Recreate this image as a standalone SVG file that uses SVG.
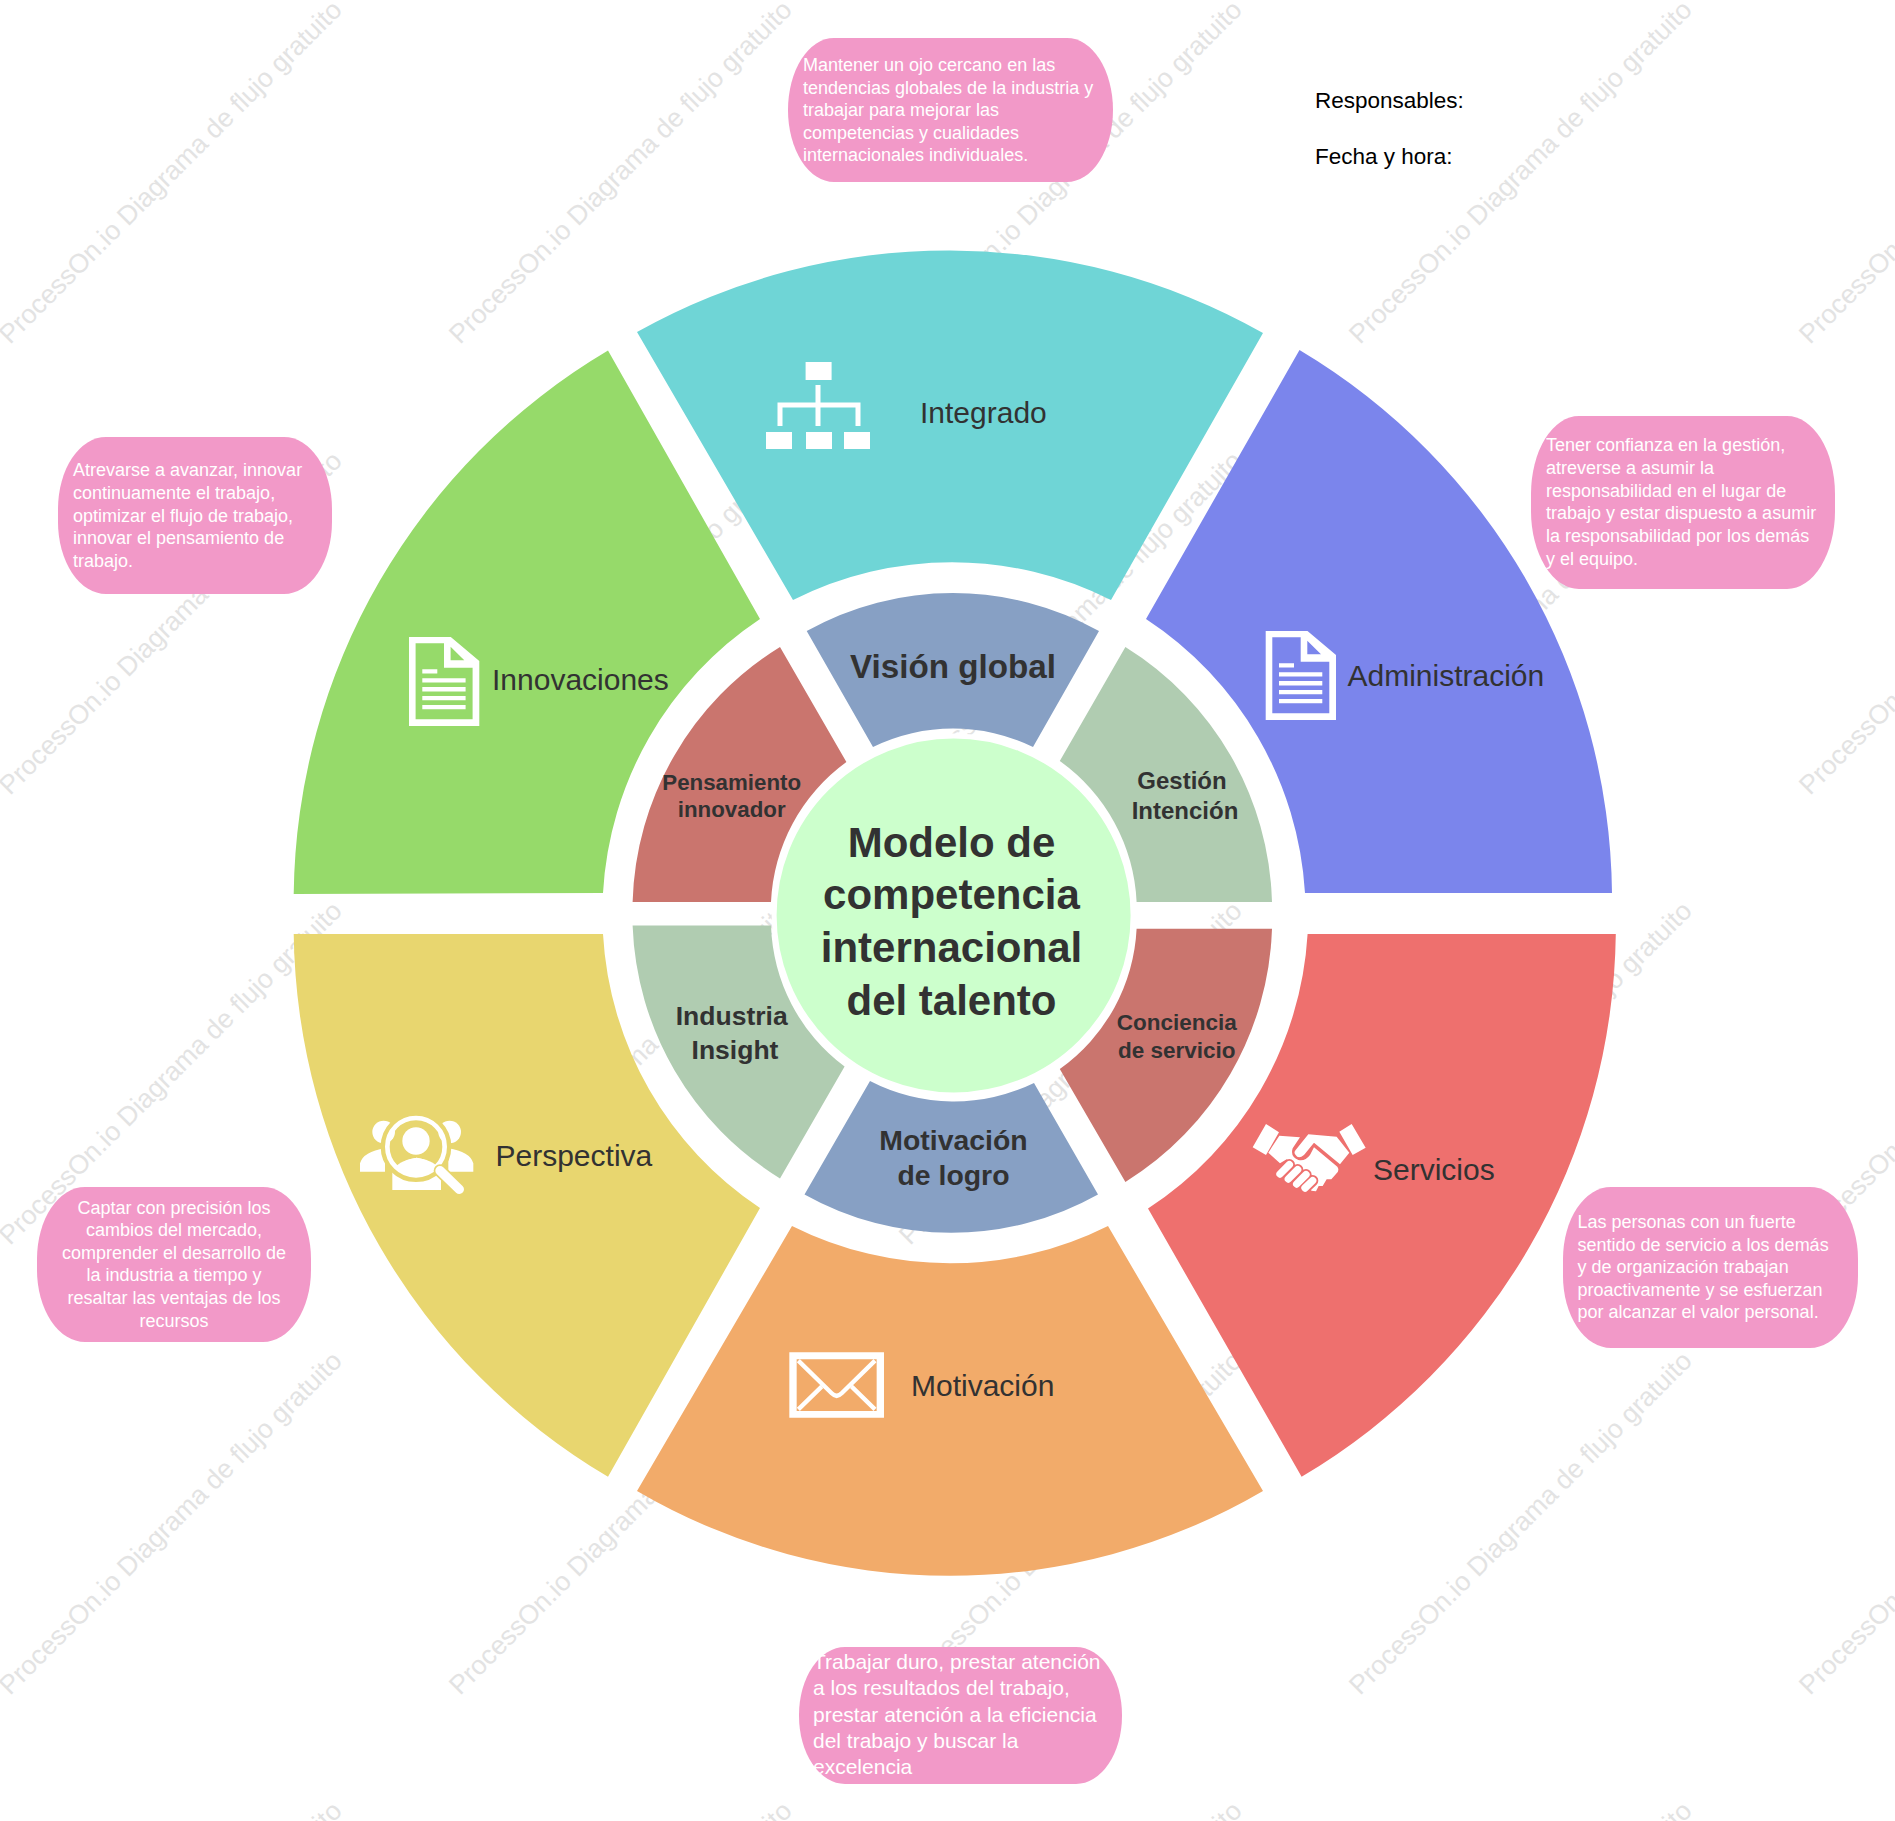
<svg xmlns="http://www.w3.org/2000/svg" xmlns:xlink="http://www.w3.org/1999/xlink" width="1895" height="1821" viewBox="0 0 1895 1821">
<style>
text{font-family:"Liberation Sans",Arial,sans-serif}
.wm{font-size:26.6px;fill:#e3e3e3}
.out{font-size:30px;fill:#323232}
.inn{font-weight:bold;fill:#323232;text-anchor:middle}
.call{fill:#f299c8}
.ct{font-size:18px;fill:#fff}
.ct21{font-size:21px;fill:#fff}
.meta{font-size:22.5px;fill:#000}
.w{fill:#fff}
</style>
<defs>
<g id="doc">
<path class="w" fill-rule="evenodd" d="M15.7 11H57.5L86 35V100H15.7ZM22.3 17.3V93.3H79.3V41.7H50.7V17.3ZM57.3 20.7V34.3H71Z"/>
<path class="w" d="M29 43.3h15v4.3h-15zM29 52.3h43.3v4.3h-43.3zM29 61h43.3v4.4h-43.3zM29 70h43.3v4.3h-43.3zM29 79h43.3v4.3h-43.3z"/>
</g>
<text id="w" class="wm" x="0" y="0">ProcessOn.io Diagrama de flujo gratuito</text>
</defs>
<rect width="1895" height="1821" fill="#fff"/>
<g id="watermark">
<use xlink:href="#w" href="#w" transform="translate(10,345) rotate(-45)"/>
<use xlink:href="#w" href="#w" transform="translate(460,345) rotate(-45)"/>
<use xlink:href="#w" href="#w" transform="translate(910,345) rotate(-45)"/>
<use xlink:href="#w" href="#w" transform="translate(1360,345) rotate(-45)"/>
<use xlink:href="#w" href="#w" transform="translate(1810,345) rotate(-45)"/>
<use xlink:href="#w" href="#w" transform="translate(10,796) rotate(-45)"/>
<use xlink:href="#w" href="#w" transform="translate(460,796) rotate(-45)"/>
<use xlink:href="#w" href="#w" transform="translate(910,796) rotate(-45)"/>
<use xlink:href="#w" href="#w" transform="translate(1360,796) rotate(-45)"/>
<use xlink:href="#w" href="#w" transform="translate(1810,796) rotate(-45)"/>
<use xlink:href="#w" href="#w" transform="translate(10,1246) rotate(-45)"/>
<use xlink:href="#w" href="#w" transform="translate(460,1246) rotate(-45)"/>
<use xlink:href="#w" href="#w" transform="translate(910,1246) rotate(-45)"/>
<use xlink:href="#w" href="#w" transform="translate(1360,1246) rotate(-45)"/>
<use xlink:href="#w" href="#w" transform="translate(1810,1246) rotate(-45)"/>
<use xlink:href="#w" href="#w" transform="translate(10,1696) rotate(-45)"/>
<use xlink:href="#w" href="#w" transform="translate(460,1696) rotate(-45)"/>
<use xlink:href="#w" href="#w" transform="translate(910,1696) rotate(-45)"/>
<use xlink:href="#w" href="#w" transform="translate(1360,1696) rotate(-45)"/>
<use xlink:href="#w" href="#w" transform="translate(1810,1696) rotate(-45)"/>
<use xlink:href="#w" href="#w" transform="translate(10,2146) rotate(-45)"/>
<use xlink:href="#w" href="#w" transform="translate(460,2146) rotate(-45)"/>
<use xlink:href="#w" href="#w" transform="translate(910,2146) rotate(-45)"/>
<use xlink:href="#w" href="#w" transform="translate(1360,2146) rotate(-45)"/>
<use xlink:href="#w" href="#w" transform="translate(1810,2146) rotate(-45)"/>
</g>
<g id="connectors"></g>

<g id="integrado">
<path fill="#6fd5d6" d="M637 332A638 638 0 0 1 1263 333L1111 600A353 353 0 0 0 793 600Z"/>
<path class="w" d="M805.6 362h26v18h-26zM766 432h26v17h-26zM806 432h26v17h-26zM844 432h26v17h-26z"/>
<path fill="none" stroke="#fff" stroke-width="5" d="M818 385V426M780 426V405H858V426"/>
<text class="out" x="920" y="423">Integrado</text>
</g>
<g id="administracion">
<path fill="#7b85ec" d="M1299.5 350A640 640 0 0 1 1612 893H1305A353 353 0 0 0 1146 619Z"/>
<use xlink:href="#doc" href="#doc" transform="translate(1250,620)"/>
<text class="out" x="1347.5" y="686">Administración</text>
</g>
<g id="servicios">
<path fill="#ee706e" d="M1307.6 934H1615.8A640 640 0 0 1 1301.6 1476.8L1148 1208.5A353 353 0 0 0 1307.6 934Z"/>
<g transform="translate(1230,1100) scale(.3333)">
<path class="w" d="M108 72L147 97L108 165L68 142ZM365 72L407 143L368 165L328 95Z"/>
<path class="w" d="M148 107L210 112L188 145Q180 170 205 180Q225 185 240 165L252 142L322 200Q330 212 318 222L304 238H290L278 258H266L258 274L244 272L232 225L195 195L170 178L150 190L115 158Z"/>
<path class="w" d="M197 150L235 103L320 110L358 158L330 193L252 128L222 165Q205 178 197 165Q190 158 197 150Z"/>
<g stroke="#ee706e" stroke-width="34" stroke-linecap="round"><path d="M150 222L178 194M175 237L203 209M200 252L228 224M225 264L248 242"/></g>
<g stroke="#fff" stroke-width="22" stroke-linecap="round"><path d="M150 222L178 194M175 237L203 209M200 252L228 224M225 264L248 242"/></g>
</g>
<text class="out" x="1373" y="1180">Servicios</text>
</g>
<g id="motivacion">
<path fill="#f2ab6a" d="M637 1491L792 1226A353 353 0 0 0 1108 1226L1263 1491A620 620 0 0 1 637 1491Z"/>
<g transform="translate(770,1330) scale(.3333)">
<path class="w" fill-rule="evenodd" d="M58 67H342V263H58ZM80 88V243H320V88Z"/>
<path fill="none" stroke="#fff" stroke-width="13" d="M85 92L185 190Q200 205 215 190L315 92M155 170L85 238M245 170L315 238"/>
</g>
<text class="out" x="911" y="1396">Motivación</text>
</g>
<g id="perspectiva">
<path fill="#e8d66f" d="M293.7 934H603A353 353 0 0 0 760 1208L608 1476.8A640 640 0 0 1 293.7 934Z"/>
<g transform="translate(340,1080) scale(.3333)">
<circle class="w" cx="131" cy="156" r="34"/><circle class="w" cx="329" cy="156" r="34"/>
<path class="w" d="M60 275V250Q70 215 135 205V275ZM400 275V250Q390 215 325 205V275Z"/>
<path class="w" d="M157 330V275Q170 242 230 233Q290 242 303 275V330Z"/>
<circle cx="228" cy="200" r="94" fill="none" stroke="#e8d66f" stroke-width="24"/>
<circle cx="228" cy="200" r="86" fill="none" stroke="#fff" stroke-width="14"/>
<circle class="w" cx="228" cy="183" r="41"/>
<path class="w" d="M170 262Q190 238 230 233Q268 238 287 262Q262 282 228 283Q195 282 170 262Z"/>
<path d="M300 272L358 328" stroke="#e8d66f" stroke-width="38" stroke-linecap="round"/>
<path d="M300 272L358 328" stroke="#fff" stroke-width="28" stroke-linecap="round"/>
</g>
<text class="out" x="495.5" y="1166">Perspectiva</text>
</g>
<g id="innovaciones">
<path fill="#96da6a" d="M608 350.5L760 619A353 353 0 0 0 603 893L293.7 894A640 640 0 0 1 608 350.5Z"/>
<use xlink:href="#doc" href="#doc" transform="translate(393.3,626)"/>
<text class="out" x="492" y="690">Innovaciones</text>
</g>

<g id="vision-global">
<path fill="#87a0c4" d="M806.7 631A300 300 0 0 1 1099 631L1033 747A183 183 0 0 0 873 747Z"/>
<text class="inn" x="953" y="678" font-size="33.2">Visión global</text>
</g>
<g id="gestion">
<path fill="#b0ccb1" d="M1125.4 647A310 310 0 0 1 1272 902H1136.6A183 183 0 0 0 1059.8 761Z"/>
<text class="inn" x="1182" y="789" font-size="24">Gestión</text>
<text class="inn" x="1185" y="819" font-size="24">Intención</text>
</g>
<g id="conciencia">
<path fill="#ca756e" d="M1136.6 928.7H1272A310 310 0 0 1 1125.4 1182L1059.8 1069A183 183 0 0 0 1136.6 928.7Z"/>
<text class="inn" x="1176.8" y="1030" font-size="22.5">Conciencia</text>
<text class="inn" x="1176.8" y="1058" font-size="22.5">de servicio</text>
</g>
<g id="logro">
<path fill="#87a0c4" d="M870 1081A183 183 0 0 0 1034 1083L1098 1194.5A300 300 0 0 1 804.5 1194.5Z"/>
<text class="inn" x="953.5" y="1150" font-size="28.4">Motivación</text>
<text class="inn" x="953.5" y="1185" font-size="28.4">de logro</text>
</g>
<g id="industria">
<path fill="#b0ccb1" d="M632.6 925.6H771A183 183 0 0 0 844.6 1066.6L780 1178.4A310 310 0 0 1 632.6 925.6Z"/>
<text class="inn" x="731.7" y="1025" font-size="26.5">Industria</text>
<text class="inn" x="735" y="1059" font-size="26.5">Insight</text>
</g>
<g id="pensamiento">
<path fill="#ca756e" d="M780 647L846.4 762A183 183 0 0 0 771 902H632.6A310 310 0 0 1 780 647Z"/>
<text class="inn" x="731.7" y="789.5" font-size="22.3">Pensamiento</text>
<text class="inn" x="731.7" y="817" font-size="22.3">innovador</text>
</g>
<g id="centro">
<circle cx="953.6" cy="915.5" r="179.5" fill="#ccffcc" stroke="#fff" stroke-width="5"/>
<g font-size="42">
<text class="inn" x="951.5" y="857">Modelo de</text>
<text class="inn" x="951.5" y="909">competencia</text>
<text class="inn" x="951.5" y="962">internacional</text>
<text class="inn" x="951.5" y="1014.5">del talento</text>
</g>
</g>

<g id="nota-integrado">
<rect class="call" x="788" y="38" width="325" height="144" rx="46" ry="72"/>
<text class="ct" x="803" y="71">Mantener un ojo cercano en las</text>
<text class="ct" x="803" y="93.5">tendencias globales de la industria y</text>
<text class="ct" x="803" y="116">trabajar para mejorar las</text>
<text class="ct" x="803" y="138.5">competencias y cualidades</text>
<text class="ct" x="803" y="161">internacionales individuales.</text>
</g>
<g id="nota-innovaciones">
<rect class="call" x="58" y="437" width="274" height="157" rx="48" ry="72"/>
<text class="ct" x="73" y="476">Atrevarse a avanzar, innovar</text>
<text class="ct" x="73" y="498.8">continuamente el trabajo,</text>
<text class="ct" x="73" y="521.6">optimizar el flujo de trabajo,</text>
<text class="ct" x="73" y="544.4">innovar el pensamiento de</text>
<text class="ct" x="73" y="567.2">trabajo.</text>
</g>
<g id="nota-administracion">
<rect class="call" x="1531" y="416" width="304" height="173" rx="48" ry="78"/>
<text class="ct" x="1546" y="451">Tener confianza en la gestión,</text>
<text class="ct" x="1546" y="473.8">atreverse a asumir la</text>
<text class="ct" x="1546" y="496.6">responsabilidad en el lugar de</text>
<text class="ct" x="1546" y="519.4">trabajo y estar dispuesto a asumir</text>
<text class="ct" x="1546" y="542.2">la responsabilidad por los demás</text>
<text class="ct" x="1546" y="565">y el equipo.</text>
</g>
<g id="nota-servicios">
<rect class="call" x="1563" y="1187" width="295" height="161" rx="48" ry="72"/>
<text class="ct" x="1577.5" y="1228">Las personas con un fuerte</text>
<text class="ct" x="1577.5" y="1250.6">sentido de servicio a los demás</text>
<text class="ct" x="1577.5" y="1273.2">y de organización trabajan</text>
<text class="ct" x="1577.5" y="1295.8">proactivamente y se esfuerzan</text>
<text class="ct" x="1577.5" y="1318.4">por alcanzar el valor personal.</text>
</g>
<g id="nota-perspectiva">
<rect class="call" x="37" y="1187" width="274" height="155" rx="48" ry="72"/>
<g text-anchor="middle">
<text class="ct" x="174" y="1213.5">Captar con precisión los</text>
<text class="ct" x="174" y="1236.1">cambios del mercado,</text>
<text class="ct" x="174" y="1258.7">comprender el desarrollo de</text>
<text class="ct" x="174" y="1281.3">la industria a tiempo y</text>
<text class="ct" x="174" y="1303.9">resaltar las ventajas de los</text>
<text class="ct" x="174" y="1326.5">recursos</text>
</g>
</g>
<g id="nota-motivacion">
<rect class="call" x="799" y="1647" width="323" height="137" rx="46" ry="68"/>
<text class="ct21" x="813" y="1669">Trabajar duro, prestar atención</text>
<text class="ct21" x="813" y="1695.3">a los resultados del trabajo,</text>
<text class="ct21" x="813" y="1721.6">prestar atención a la eficiencia</text>
<text class="ct21" x="813" y="1747.9">del trabajo y buscar la</text>
<text class="ct21" x="813" y="1774.2">excelencia</text>
</g>
<g id="meta">
<text class="meta" x="1315" y="108">Responsables:</text>
<text class="meta" x="1315" y="164">Fecha y hora:</text>
</g>
</svg>
